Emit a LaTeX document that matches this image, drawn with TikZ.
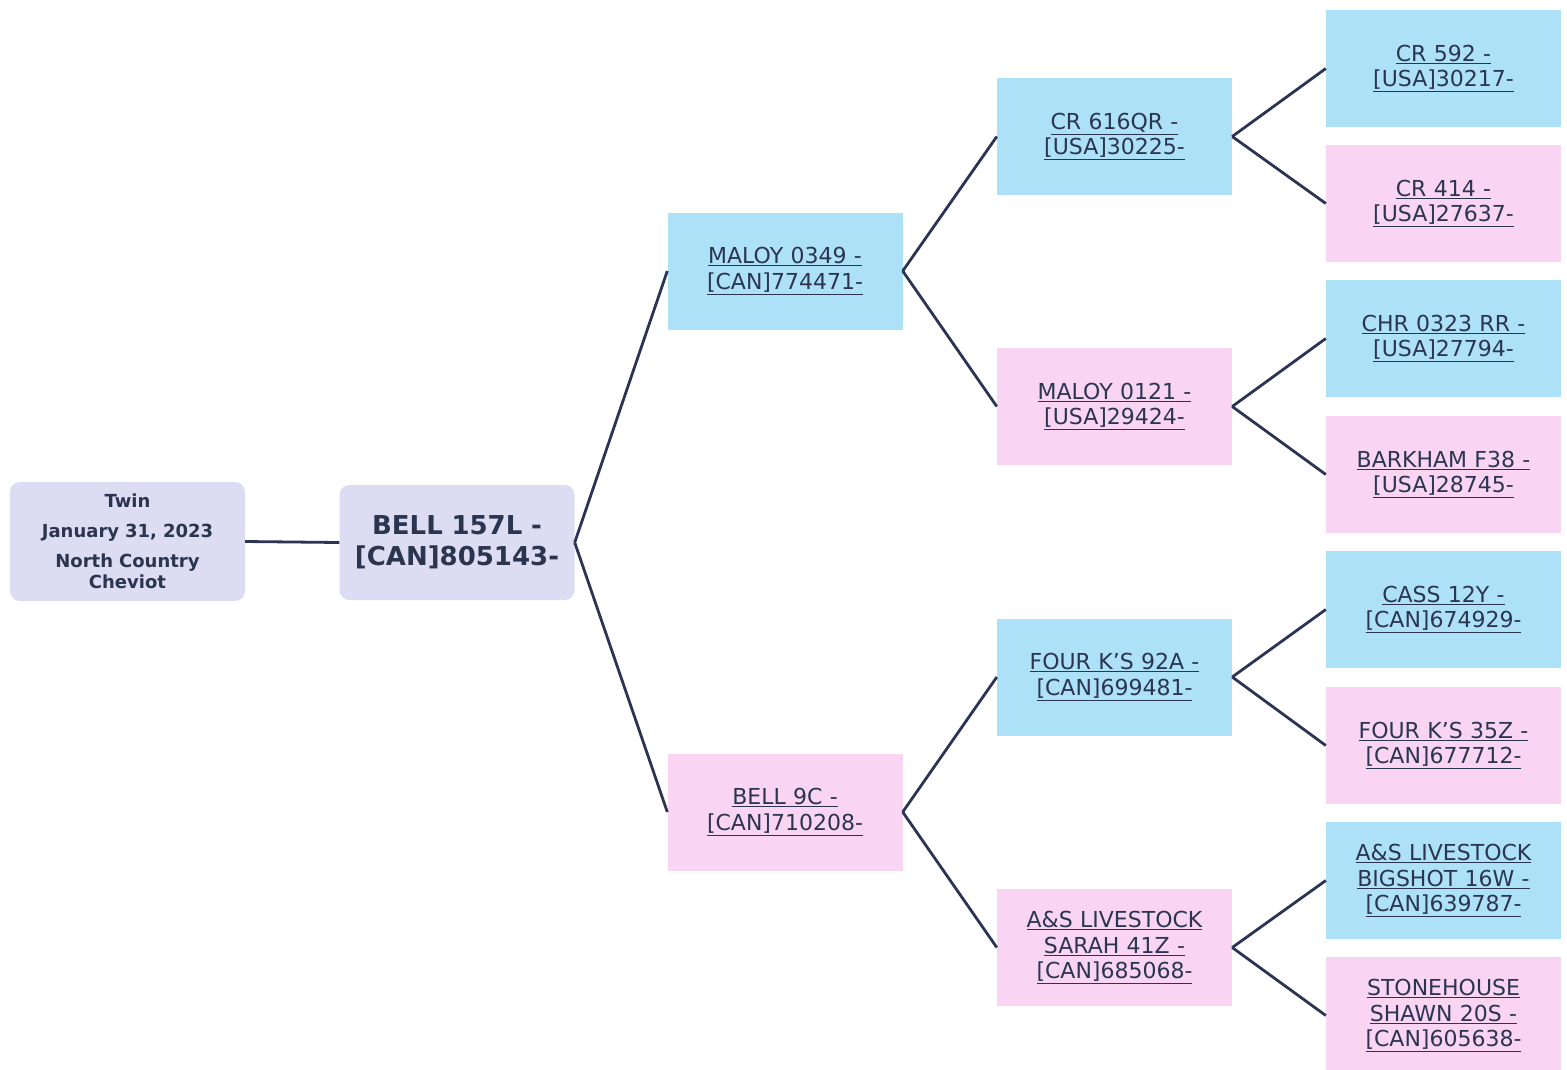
\documentclass[tikz,border=0pt]{standalone}
\usepackage{fontspec}
\setmainfont{DejaVu Sans}
\definecolor{bluebox}{HTML}{ADE1F8}
\definecolor{pinkbox}{HTML}{F9D5F3}
\definecolor{lavbox}{HTML}{DCDCF3}
\definecolor{linecol}{HTML}{2B3452}
\definecolor{textcol}{HTML}{2B3550}
\newcommand{\ul}[1]{\underline{#1}}
\tikzset{
  anc/.style={minimum width=235pt, minimum height=117pt, inner sep=2pt, align=center, text width=228pt, text=textcol,
    font=\fontsize{22}{25.5}\selectfont},
  blue/.style={anc, fill=bluebox},
  pink/.style={anc, fill=pinkbox},
  root/.style={anc, fill=lavbox, rounded corners=10pt},
  conn/.style={draw=linecol, line width=2.8pt}
}
\begin{document}
\begin{tikzpicture}[x=1pt,y=-1pt]
\useasboundingbox (0,0) rectangle (1567,1069);
\node[root, minimum height=119pt, font=\fontsize{18}{21}\selectfont\bfseries] (info) at (127.5,541.5)
  {Twin\\[9pt]January 31, 2023\\[9pt]North Country\\Cheviot};
\node[root, minimum height=115pt, font=\fontsize{26}{31}\selectfont\bfseries] (s) at (457,542.5)
  {BELL 157L -\\{}[CAN]805143-};
\node[blue] (s1) at (785,271) {\ul{MALOY 0349 -}\\\ul{[CAN]774471-}};
\node[pink] (s2) at (785,812) {\ul{BELL 9C -}\\\ul{[CAN]710208-}};
\node[blue] (s11) at (1114.5,136.5) {\ul{CR 616QR -}\\\ul{[USA]30225-}};
\node[pink] (s12) at (1114.5,406.5) {\ul{MALOY 0121 -}\\\ul{[USA]29424-}};
\node[blue] (s21) at (1114.5,677) {\ul{FOUR K'S 92A -}\\\ul{[CAN]699481-}};
\node[pink] (s22) at (1114.5,947.5) {\ul{A\&S LIVESTOCK}\\\ul{SARAH 41Z -}\\\ul{[CAN]685068-}};
\node[blue] (s111) at (1443.5,68.5) {\ul{CR 592 -}\\\ul{[USA]30217-}};
\node[pink] (s112) at (1443.5,203.5) {\ul{CR 414 -}\\\ul{[USA]27637-}};
\node[blue] (s121) at (1443.5,338.5) {\ul{CHR 0323 RR -}\\\ul{[USA]27794-}};
\node[pink] (s122) at (1443.5,474.5) {\ul{BARKHAM F38 -}\\\ul{[USA]28745-}};
\node[blue] (s211) at (1443.5,609.5) {\ul{CASS 12Y -}\\\ul{[CAN]674929-}};
\node[pink] (s212) at (1443.5,745.5) {\ul{FOUR K'S 35Z -}\\\ul{[CAN]677712-}};
\node[blue] (s221) at (1443.5,880.5) {\ul{A\&S LIVESTOCK}\\\ul{BIGSHOT 16W -}\\\ul{[CAN]639787-}};
\node[pink] (s222) at (1443.5,1015.5) {\ul{STONEHOUSE}\\\ul{SHAWN 20S -}\\\ul{[CAN]605638-}};
\draw[conn] (info.east) -- (s.west);
\draw[conn] (s.east) -- (s1.west);
\draw[conn] (s.east) -- (s2.west);
\draw[conn] (s1.east) -- (s11.west);
\draw[conn] (s1.east) -- (s12.west);
\draw[conn] (s2.east) -- (s21.west);
\draw[conn] (s2.east) -- (s22.west);
\draw[conn] (s11.east) -- (s111.west);
\draw[conn] (s11.east) -- (s112.west);
\draw[conn] (s12.east) -- (s121.west);
\draw[conn] (s12.east) -- (s122.west);
\draw[conn] (s21.east) -- (s211.west);
\draw[conn] (s21.east) -- (s212.west);
\draw[conn] (s22.east) -- (s221.west);
\draw[conn] (s22.east) -- (s222.west);
\end{tikzpicture}
\end{document}
